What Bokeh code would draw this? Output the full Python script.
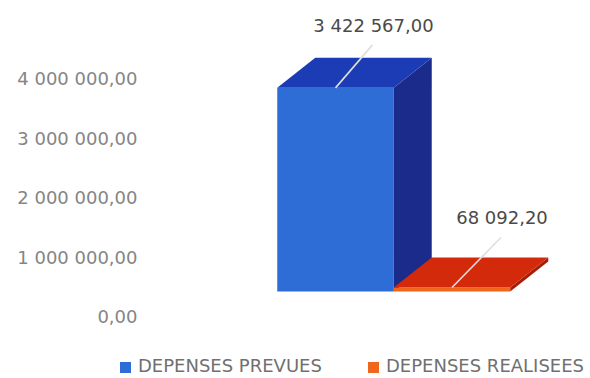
from bokeh.plotting import figure
from bokeh.layouts import column
from bokeh.models import (Range1d, LinearAxis, FixedTicker, CustomJSTickFormatter, Div)
from bokeh.core.properties import value
from bokeh.embed import file_html
from bokeh.resources import INLINE

# --- data -------------------------------------------------------------
categories = ["DEPENSES PREVUES", "DEPENSES REALISEES"]
amounts = [3422567.00, 68092.20]
tick_values = [0, 1000000, 2000000, 3000000, 4000000]

# --- styling ----------------------------------------------------------
front_colors = ["#2E6DD5", "#F0661C"]
top_colors = ["#1C3CB6", "#D42A0C"]
side_colors = ["#1A2B8C", "#A81C08"]
FONT = "DejaVu Sans"

# pixel scale of the plot area: 116.5 px per category, 59.5 px per million
PX_X = 1 / 116.5
PX_Y = 1e6 / 59.5
DEPTH_X = 38 * PX_X       # 3D depth offset
DEPTH_Y = 30 * PX_Y
AXIS_SHIFT = 25 * PX_Y    # value axis sits slightly below the bars' front plane

# leader line end and label centre, in pixels from the bar's front-top centre
leader_px = [(37, 43), (49, 50)]
label_px = [(38, 62), (50, 70)]


def fr_number(v):
    return f"{v:,.2f}".replace(",", " ").replace(".", ",")


y_lo, y_hi = -0.95798e6, 4.8908e6
p = figure(width=590, height=346,
           x_range=Range1d(-1.588, 2.189), y_range=Range1d(y_lo + 2 * PX_Y, y_hi),
           x_axis_type=None, y_axis_type=None,
           output_backend="svg", toolbar_location=None,
           min_border=0, min_border_left=150, outline_line_color=None)
p.extra_y_ranges = {"ticks": Range1d(y_lo + 2 * PX_Y + AXIS_SHIFT, y_hi + AXIS_SHIFT)}

yaxis = LinearAxis(y_range_name="ticks",
                   ticker=FixedTicker(ticks=tick_values),
                   formatter=CustomJSTickFormatter(code="""
                       const parts = tick.toFixed(2).split('.');
                       return parts[0].replace(/\\B(?=(\\d{3})+(?!\\d))/g, ' ') + ',' + parts[1];
                   """))
yaxis.axis_line_color = None
yaxis.major_tick_line_color = None
yaxis.minor_tick_line_color = None
yaxis.major_tick_out = 0
yaxis.major_label_standoff = 13
yaxis.major_label_text_font = FONT
yaxis.major_label_text_font_size = "18px"
yaxis.major_label_text_color = "#858585"
p.add_layout(yaxis, "left")

for i, v in enumerate(amounts):
    x0, x1 = i - 0.5, i + 0.5
    p.quad(left=[x0], right=[x1], bottom=[0], top=[v],
           fill_color=front_colors[i], line_color=None)
    # right side face
    p.patch(x=[x1, x1 + DEPTH_X, x1 + DEPTH_X, x1],
            y=[0, DEPTH_Y, v + DEPTH_Y, v],
            fill_color=side_colors[i], line_color=None)
    # top face
    p.patch(x=[x0, x1, x1 + DEPTH_X, x0 + DEPTH_X],
            y=[v, v, v + DEPTH_Y, v + DEPTH_Y],
            fill_color=top_colors[i], line_color=None)

# leader lines and value labels
for i, v in enumerate(amounts):
    lx, ly = leader_px[i]
    p.segment(x0=[i], y0=[v], x1=[i + lx * PX_X], y1=[v + ly * PX_Y],
              line_color="#dedede", line_width=1.6)
    tx, ty = label_px[i]
    p.text(x=[i + tx * PX_X], y=[v + ty * PX_Y], text=[fr_number(v)],
           text_font=value(FONT), text_font_size="18px", text_color="#4a4a4a",
           text_align="center", text_baseline="middle")

# legend strip under the chart
legend_x = [120, 368]
entries = []
for i, name in enumerate(categories):
    x = legend_x[i]
    entries.append(
        f'<span style="position:absolute;left:{x}px;top:16px;width:11px;height:11px;'
        f'background:{front_colors[i]}"></span>'
        f'<span style="position:absolute;left:{x + 18}px;top:8px;line-height:23px;'
        f'white-space:nowrap">{name}</span>')
legend = Div(text=("<div style=\"position:relative;width:590px;height:32px;"
                   f"font-family:'{FONT}';font-size:18px;color:#707070\">"
                   + "".join(entries) + "</div>"),
             width=590, height=32, margin=0)

open("out.html", "w").write(file_html(column(p, legend, spacing=0), INLINE))
